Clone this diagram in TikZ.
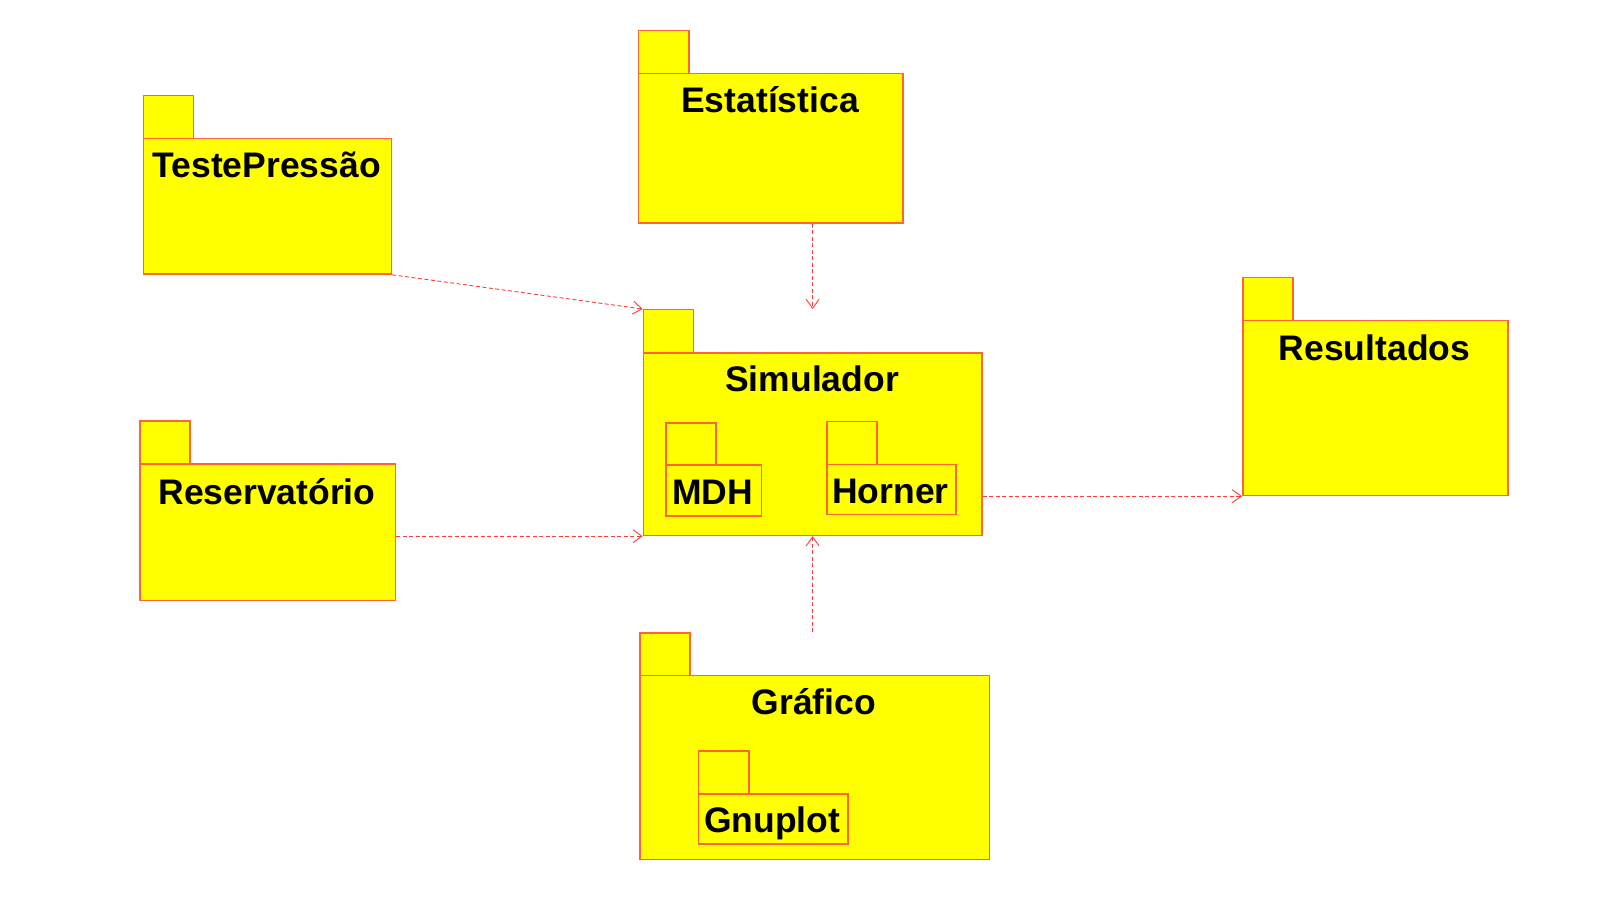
\documentclass[tikz,border=0pt]{standalone}
\usepackage{fontspec}
\setmainfont{Liberation Sans}
\usetikzlibrary{arrows.meta,positioning}
\definecolor{pkgline}{RGB}{255,100,55}
\definecolor{pkgfill}{RGB}{255,255,0}
\definecolor{deparrow}{RGB}{255,60,60}
\tikzset{
  pkgbox/.style={draw=pkgline, fill=pkgfill, line width=1.5pt, rectangle, inner sep=0pt, anchor=north west},
  pkglabel/.style={anchor=base, inner sep=0pt, font=\fontsize{35.5}{43}\selectfont\bfseries},
  dep/.style={draw=deparrow, line width=0.9pt, dash pattern=on 4pt off 2.5pt, -{Straight Barb[length=9pt,width=13pt]}}
}
\begin{document}
\begin{tikzpicture}[x=1pt,y=-1pt]
\useasboundingbox (0,0) rectangle (1620,901);

% TestePressao
\node[pkgbox, minimum width=50pt, minimum height=43pt] (tp-tab) at (142.7,94.7) {};
\node[pkgbox, minimum width=248pt, minimum height=135.6pt] (tp) at (142.7,137.7) {};
\node[pkglabel] (tp-lbl) at (266.7,178) {TestePressão};

% Estatistica
\node[pkgbox, minimum width=50.3pt, minimum height=42.7pt] (est-tab) at (637.7,30) {};
\node[pkgbox, minimum width=264.3pt, minimum height=149.6pt] (est) at (637.7,72.7) {};
\node[pkglabel] (est-lbl) at (770,112.7) {Estatística};

% Simulador
\node[pkgbox, minimum width=50pt, minimum height=43pt] (sim-tab) at (642.7,309) {};
\node[pkgbox, minimum width=338.3pt, minimum height=182.7pt] (sim) at (642.7,352) {};
\node[pkglabel] (sim-lbl) at (812,391.7) {Simulador};

% MDH
\node[pkgbox, minimum width=50pt, minimum height=42.3pt] (mdh-tab) at (665,422) {};
\node[pkgbox, minimum width=95.7pt, minimum height=50.7pt] (mdh) at (665,464.3) {};
\node[pkglabel] (mdh-lbl) at (712.8,504) {MDH};

% Horner
\node[pkgbox, minimum width=50pt, minimum height=43pt] (hor-tab) at (826,420.7) {};
\node[pkgbox, minimum width=129pt, minimum height=50pt] (hor) at (826,463.7) {};
\node[pkglabel] (hor-lbl) at (890.5,503.3) {Horner};

% Resultados
\node[pkgbox, minimum width=50pt, minimum height=43.3pt] (res-tab) at (1242,276.7) {};
\node[pkgbox, minimum width=265pt, minimum height=174.7pt] (res) at (1242,320) {};
\node[pkglabel] (res-lbl) at (1374.5,360) {Resultados};

% Reservatorio
\node[pkgbox, minimum width=50pt, minimum height=43.3pt] (rsv-tab) at (139.1,420.1) {};
\node[pkgbox, minimum width=255.6pt, minimum height=136.3pt] (rsv) at (139.1,463.4) {};
\node[pkglabel] (rsv-lbl) at (266.9,504.7) {Reservatório};

% Grafico
\node[pkgbox, minimum width=50pt, minimum height=42.7pt] (gra-tab) at (639,632) {};
\node[pkgbox, minimum width=349.7pt, minimum height=184pt] (gra) at (639,674.7) {};
\node[pkglabel] (gra-lbl) at (813.9,714) {Gráfico};

% Gnuplot
\node[pkgbox, minimum width=50.3pt, minimum height=43pt] (gnu-tab) at (697.7,750) {};
\node[pkgbox, minimum width=149.3pt, minimum height=50pt] (gnu) at (697.7,793) {};
\node[pkglabel] (gnu-lbl) at (772.3,832.3) {Gnuplot};

% dependencies
\draw[dep] (tp.south east) -- (sim-tab.north west);
\draw[dep] (est.south -| sim.north) -- (sim.north |- sim-tab.north);
\draw[dep] (rsv.east |- sim.south west) -- (sim.south west);
\draw[dep] (sim.east |- res.south west) -- (res.south west);
\draw[dep] (gra-tab.north -| sim.south) -- (sim.south);
\end{tikzpicture}
\end{document}
